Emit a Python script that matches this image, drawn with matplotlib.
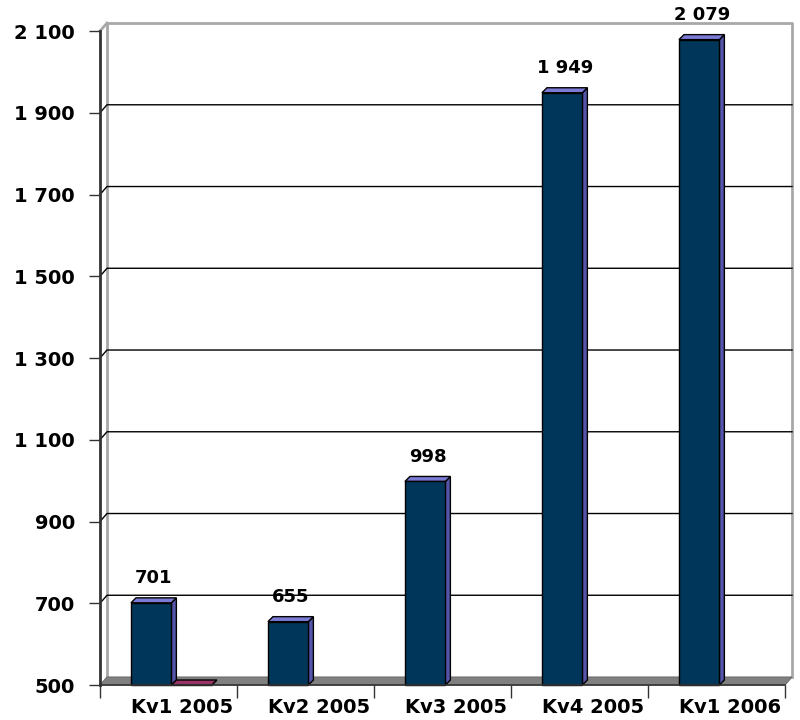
import numpy as np
import matplotlib.pyplot as plt
from matplotlib.patches import Polygon

plt.rcParams['font.family'] = ['DejaVu Sans']

categories = ['Kv1 2005', 'Kv2 2005', 'Kv3 2005', 'Kv4 2005', 'Kv1 2006']
values = [701, 655, 998, 1949, 2079]
second = [0, np.nan, np.nan, np.nan, np.nan]
yticks = [500, 700, 900, 1100, 1300, 1500, 1700, 1900, 2100]

ymin, ymax = 500, 2100
fig = plt.figure(figsize=(8, 7.2), dpi=100)
ax = fig.add_axes([0.125, 0.0486, 0.85625, 0.9083])
ax.set_xlim(0, 5)
ax.set_ylim(ymin, ymax)

# depth of the 3d look, in data units
dx = 7 / 137.0
dy = 8 * (ymax - ymin) / 654.0
bdx = 5 / 137.0
bdy = 5 * (ymax - ymin) / 654.0

wall = '#a8a8a8'
# back wall frame
ax.plot([dx, dx, 5 + dx, 5 + dx], [ymin + dy, ymax + dy, ymax + dy, ymin + dy],
        color=wall, lw=2, clip_on=False, zorder=1)
ax.plot([0, dx], [ymax, ymax + dy], color=wall, lw=2, clip_on=False, zorder=1)
# grid lines on back wall
for t in yticks[1:-1]:
    ax.plot([0, dx, 5 + dx], [t, t + dy, t + dy], color='black', lw=1, clip_on=False, zorder=1.5)
# floor
ax.add_patch(Polygon([[0, ymin], [5, ymin], [5 + dx, ymin + dy], [dx, ymin + dy]],
                     closed=True, facecolor='#808080', edgecolor='#6e6e6e', lw=0.8,
                     clip_on=False, zorder=2))


def bar3d(x0, w, v, front, side, top):
    h = max(v, ymin)
    ax.add_patch(Polygon([[x0, ymin], [x0 + w, ymin], [x0 + w, h], [x0, h]],
                         facecolor=front, edgecolor='black', lw=1, zorder=4, clip_on=False))
    ax.add_patch(Polygon([[x0 + w, ymin], [x0 + w + bdx, ymin + bdy], [x0 + w + bdx, h + bdy], [x0 + w, h]],
                         facecolor=side, edgecolor='black', lw=1, zorder=3, clip_on=False))
    ax.add_patch(Polygon([[x0, h], [x0 + w, h], [x0 + w + bdx, h + bdy], [x0 + bdx, h + bdy]],
                         facecolor=top, edgecolor='black', lw=1, zorder=3, clip_on=False))


bw = 0.295
for i, v in enumerate(values):
    x0 = i + 0.226
    bar3d(x0, bw, v, '#003659', '#5555aa', '#7b7bd6')
    label = '{:,}'.format(v).replace(',', ' ')
    ax.text(x0 + (bw + bdx) / 2, v + bdy + 26, label, ha='center', va='bottom',
            fontsize=13, fontweight='bold', zorder=5)

for i, v in enumerate(second):
    if np.isnan(v):
        continue
    x0 = i + 0.226 + bw
    bar3d(x0, bw, v, '#993366', '#802050', '#993366')

for s in ['top', 'right']:
    ax.spines[s].set_visible(False)
ax.spines['left'].set_color('#333333')
ax.spines['left'].set_linewidth(2)
ax.spines['bottom'].set_color('#333333')
ax.spines['bottom'].set_linewidth(1.2)
ax.spines['left'].set_zorder(6)
ax.spines['bottom'].set_zorder(6)

ax.set_yticks(yticks)
ax.set_yticklabels(['{:,}'.format(t).replace(',', ' ') for t in yticks],
                   fontsize=14, fontweight='bold')
ax.tick_params(axis='y', length=8, width=1, color='#333333', pad=10)

ax.set_xticks(range(6))
ax.set_xticklabels([])
ax.set_xticks(np.arange(5) + 0.6, minor=True)
ax.set_xticklabels(categories, minor=True, fontsize=14, fontweight='bold')
ax.tick_params(axis='x', which='major', length=9, width=1, color='#333333', direction='out')
ax.tick_params(axis='x', which='minor', length=0, pad=9)

fig.savefig('out.png', dpi=100)
